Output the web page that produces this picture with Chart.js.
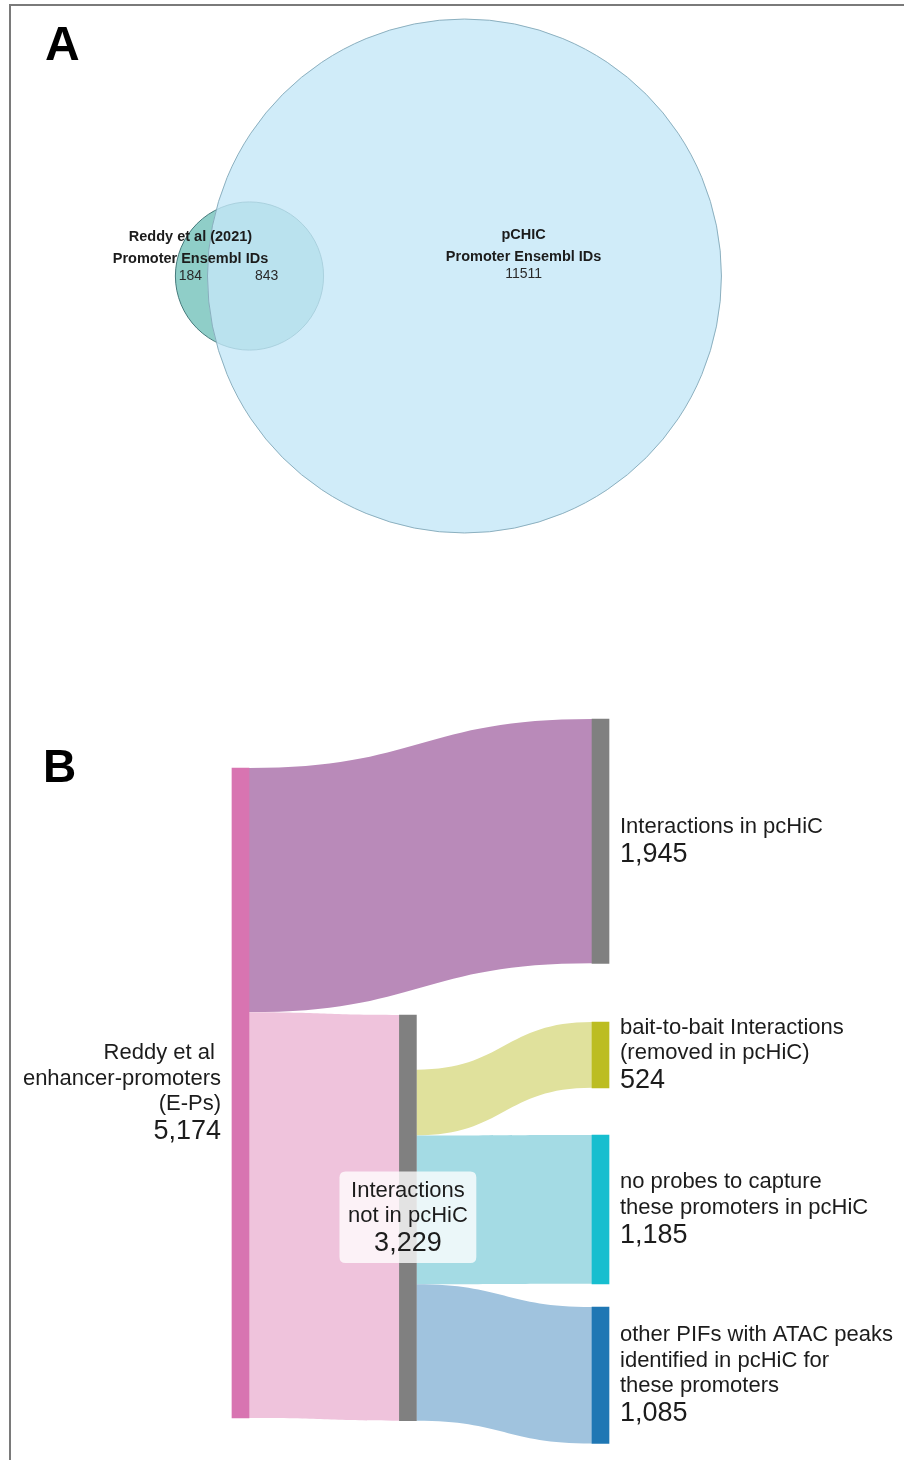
<!DOCTYPE html>
<html>
<head>
<meta charset="utf-8">
<title>Promoter overlap and enhancer-promoter flow</title>
<script src="https://cdn.jsdelivr.net/npm/chart.js@4.4.1/dist/chart.umd.min.js"></script>
<style>
  html, body { margin: 0; padding: 0; background: #ffffff; }
  #page { position: relative; width: 904px; height: 1460px; overflow: hidden; }
  #frame { position: absolute; left: 9px; top: 4px; right: 0; bottom: 0;
           border-top: 2px solid #7a7a7a; border-left: 2px solid #7a7a7a; }
  canvas { position: absolute; left: 0; }
  #venn { top: 0; }
  #sankey { top: 620px; }
</style>
</head>
<body>
<div id="page">
  <div id="frame"></div>
  <canvas id="venn" width="904" height="620"></canvas>
  <canvas id="sankey" width="904" height="840"></canvas>
</div>
<script>
// ---------- Panel A: promoter Ensembl ID overlap ----------
const vennSetNames = ['Reddy et al (2021)', 'pCHIC'];
const vennSubtitle = 'Promoter Ensembl IDs';
const vennOnlyCounts = [184, 11511];   // IDs unique to each set
const vennSharedCount = 843;           // IDs found in both sets

// ---------- Panel B: enhancer-promoter interaction flow ----------
const nodeNames = [
  ['Reddy et al ', 'enhancer-promoters', '(E-Ps)'],
  ['Interactions in pcHiC'],
  ['Interactions', 'not in pcHiC'],
  ['bait-to-bait Interactions', '(removed in pcHiC)'],
  ['no probes to capture', 'these promoters in pcHiC'],
  ['other PIFs with ATAC peaks', 'identified in pcHiC for', 'these promoters']
];
const linkSource = [0, 0, 2, 2, 2];
const linkTarget = [1, 2, 3, 4, 5];
const linkValue  = [1945, 3229, 524, 1185, 1085];

// ---------- layout & style ----------
const FONT = "'Liberation Sans', Arial, Helvetica, sans-serif";
const TEXT_COLOR = '#1c1c1c';

// Venn view window in data units (equal px per unit on both axes)
const vennView = { xMin: -60.88, xMax: 159.72, yMin: -83.94, yMax: 67.35 };
const vennFill   = ['rgb(143,206,200)', 'rgba(196,231,247,0.80)'];
const vennStroke = ['rgba(55,110,112,0.9)', 'rgba(135,172,188,0.95)'];
// text anchors (data units) for the subtitle line of each set, and the shared count
const vennTextAnchor = [{ x: -14.4, y: 4.15 }, { x: 66.9, y: 4.64 }];
const vennSharedTextX = 4.2;

// Sankey arrangement: column (x units) and top offset (value units) of each node
const nodeColumn = [0, 1, 0.465, 1, 1, 1];
const nodeTop    = [1178, 788, 3144, 3200, 4099, 5469];
const nodeLabelSide = ['left', 'right', 'center', 'right', 'right', 'right'];
const nodeColors = ['#d874b1', '#808080', '#808080', '#bcbd22', '#17becf', '#1f77b4'];
const linkColors = ['#b98ab9', '#efc3dc', '#e0e19c', '#a4dbe4', '#a0c3de'];
const sankeyView = { xMin: -0.668, xMax: 1.843, yMax: 6686 };

// ---------- Venn geometry from the counts ----------
const setSizes = [vennOnlyCounts[0] + vennSharedCount, vennOnlyCounts[1] + vennSharedCount];
const radii = setSizes.map(s => Math.sqrt(s / Math.PI));

function lensArea(d, r1, r2) {
  if (d >= r1 + r2) return 0;
  if (d <= Math.abs(r1 - r2)) return Math.PI * Math.min(r1, r2) ** 2;
  const a1 = Math.acos((d * d + r1 * r1 - r2 * r2) / (2 * d * r1));
  const a2 = Math.acos((d * d + r2 * r2 - r1 * r1) / (2 * d * r2));
  const k = Math.sqrt((-d + r1 + r2) * (d + r1 - r2) * (d - r1 + r2) * (d + r1 + r2));
  return r1 * r1 * a1 + r2 * r2 * a2 - 0.5 * k;
}
function centreDistance(r1, r2, target) {
  let lo = Math.abs(r1 - r2), hi = r1 + r2;
  for (let i = 0; i < 80; i++) {
    const mid = (lo + hi) / 2;
    if (lensArea(mid, r1, r2) > target) lo = mid; else hi = mid;
  }
  return (lo + hi) / 2;
}
const centreGap = centreDistance(radii[0], radii[1], vennSharedCount);
const vennCentres = [{ x: 0, y: 0 }, { x: centreGap, y: 0 }];

const vennLabels = {
  id: 'vennLabels',
  afterDatasetsDraw(chart) {
    const { ctx, scales: { x, y } } = chart;
    ctx.save();
    ctx.textAlign = 'center';
    ctx.textBaseline = 'middle';
    vennSetNames.forEach((name, i) => {
      const ax = x.getPixelForValue(vennTextAnchor[i].x);
      const ay = y.getPixelForValue(vennTextAnchor[i].y);
      ctx.font = 'bold 14.5px ' + FONT;
      ctx.fillStyle = TEXT_COLOR;
      ctx.fillText(name, ax, ay - 21.5);
      ctx.fillText(vennSubtitle, ax, ay);
      ctx.font = '14px ' + FONT;
      ctx.fillStyle = '#2a2a2a';
      ctx.fillText(String(vennOnlyCounts[i]), ax, ay + 17);
      if (i === 0) ctx.fillText(String(vennSharedCount), x.getPixelForValue(vennSharedTextX), ay + 17);
    });
    ctx.font = 'bold 48px ' + FONT;
    ctx.textAlign = 'left';
    ctx.textBaseline = 'alphabetic';
    ctx.fillStyle = '#000';
    ctx.fillText('A', 45, 60);
    ctx.restore();
  }
};

const vennChart = new Chart(document.getElementById('venn'), {
  type: 'bubble',
  data: {
    datasets: vennSetNames.map((name, i) => ({
      label: name,
      data: [{ x: vennCentres[i].x, y: vennCentres[i].y }],
      hoverRadius: 0,
      backgroundColor: vennFill[i],
      borderColor: vennStroke[i],
      borderWidth: 1,
      order: i === 1 ? 0 : 1,
      clip: false
    }))
  },
  options: {
    responsive: false,
    animation: false,
    devicePixelRatio: 1,
    layout: { padding: 0, autoPadding: false },
    events: [],
    scales: {
      x: { type: 'linear', min: vennView.xMin, max: vennView.xMax, display: false, offset: false },
      y: { type: 'linear', min: vennView.yMin, max: vennView.yMax, display: false, offset: false }
    },
    plugins: { legend: { display: false }, tooltip: { enabled: false } }
  },
  plugins: [vennLabels]
});
// bubble radii are in pixels: convert each set radius through the laid-out x scale
{
  const xs = vennChart.scales.x;
  vennChart.data.datasets.forEach((ds, i) => {
    ds.data[0].r = Math.abs(xs.getPixelForValue(radii[i]) - xs.getPixelForValue(0));
  });
  vennChart.update('none');
}

// ---------- Sankey ----------
const nodeCount = nodeNames.length;
const inSum = new Array(nodeCount).fill(0);
const outSum = new Array(nodeCount).fill(0);
linkValue.forEach((v, i) => { outSum[linkSource[i]] += v; inSum[linkTarget[i]] += v; });
const nodeValue = inSum.map((v, i) => Math.max(v, outSum[i]));

const nodeBars = nodeValue.map((v, i) => ({ x: nodeColumn[i], y: [nodeTop[i], nodeTop[i] + v] }));

const sankeyLinks = {
  id: 'sankeyLinks',
  beforeDatasetsDraw(chart) {
    const { ctx, scales: { y } } = chart;
    const nodes = chart.getDatasetMeta(0).data;
    // outgoing links stack from the bottom of a node when it carries more than it passes on
    const outPos = nodeValue.map((v, i) => nodeTop[i] + (v - outSum[i]));
    const inPos = nodeTop.slice();
    ctx.save();
    linkValue.forEach((v, i) => {
      const s = linkSource[i], t = linkTarget[i];
      const x0 = nodes[s].x + nodes[s].width / 2;
      const x1 = nodes[t].x - nodes[t].width / 2;
      const y0a = y.getPixelForValue(outPos[s]), y0b = y.getPixelForValue(outPos[s] + v);
      const y1a = y.getPixelForValue(inPos[t]),  y1b = y.getPixelForValue(inPos[t] + v);
      outPos[s] += v; inPos[t] += v;
      const xm = (x0 + x1) / 2;
      ctx.beginPath();
      ctx.moveTo(x0, y0a);
      ctx.bezierCurveTo(xm, y0a, xm, y1a, x1, y1a);
      ctx.lineTo(x1, y1b);
      ctx.bezierCurveTo(xm, y1b, xm, y0b, x0, y0b);
      ctx.closePath();
      ctx.fillStyle = linkColors[i];
      ctx.fill();
    });
    ctx.restore();
  }
};

function roundRectPath(ctx, x, y, w, h, r) {
  ctx.beginPath();
  ctx.moveTo(x + r, y);
  ctx.lineTo(x + w - r, y);
  ctx.quadraticCurveTo(x + w, y, x + w, y + r);
  ctx.lineTo(x + w, y + h - r);
  ctx.quadraticCurveTo(x + w, y + h, x + w - r, y + h);
  ctx.lineTo(x + r, y + h);
  ctx.quadraticCurveTo(x, y + h, x, y + h - r);
  ctx.lineTo(x, y + r);
  ctx.quadraticCurveTo(x, y, x + r, y);
  ctx.closePath();
}

const sankeyLabels = {
  id: 'sankeyLabels',
  afterDatasetsDraw(chart) {
    const { ctx, scales: { y } } = chart;
    const nodes = chart.getDatasetMeta(0).data;
    const textFont = '22px ' + FONT, numFont = '27px ' + FONT;
    ctx.save();
    ctx.textBaseline = 'alphabetic';
    nodeNames.forEach((lines, i) => {
      const el = nodes[i];
      const cy = y.getPixelForValue(nodeTop[i] + nodeValue[i] / 2);
      const n = lines.length;
      const first = cy - 12.75 * (n - 1) - 8.5;
      const numBase = first + 25.5 * (n - 1) + 29;
      const numText = nodeValue[i].toLocaleString('en-US');
      const side = nodeLabelSide[i];
      let tx;
      if (side === 'left') { tx = el.x - el.width / 2 - 11; ctx.textAlign = 'right'; }
      else if (side === 'right') { tx = el.x + el.width / 2 + 11; ctx.textAlign = 'left'; }
      else {
        tx = el.x; ctx.textAlign = 'center';
        ctx.font = textFont;
        let w = Math.max(...lines.map(l => ctx.measureText(l).width));
        ctx.font = numFont;
        w = Math.max(w, ctx.measureText(numText).width);
        const top = first - 25, bottom = numBase + 12;
        roundRectPath(ctx, tx - w / 2 - 8.5, top, w + 17, bottom - top, 6);
        ctx.fillStyle = 'rgba(255,255,255,0.78)';
        ctx.fill();
      }
      ctx.fillStyle = TEXT_COLOR;
      ctx.font = textFont;
      lines.forEach((l, k) => ctx.fillText(l, tx, first + 25.5 * k));
      ctx.font = numFont;
      ctx.fillText(numText, tx, numBase);
    });
    ctx.font = 'bold 46px ' + FONT;
    ctx.textAlign = 'left';
    ctx.fillStyle = '#000';
    ctx.fillText('B', 43, 162);
    ctx.restore();
  }
};

new Chart(document.getElementById('sankey'), {
  type: 'bar',
  data: {
    datasets: [{
      label: 'nodes',
      data: nodeBars,
      backgroundColor: nodeColors,
      borderWidth: 0,
      barThickness: 17,
      borderSkipped: false
    }]
  },
  options: {
    responsive: false,
    animation: false,
    devicePixelRatio: 1,
    layout: { padding: 0, autoPadding: false },
    events: [],
    scales: {
      x: { type: 'linear', min: sankeyView.xMin, max: sankeyView.xMax, display: false, offset: false },
      y: { type: 'linear', min: 0, max: sankeyView.yMax, reverse: true, display: false }
    },
    plugins: { legend: { display: false }, tooltip: { enabled: false } }
  },
  plugins: [sankeyLinks, sankeyLabels]
});
</script>
</body>
</html>
